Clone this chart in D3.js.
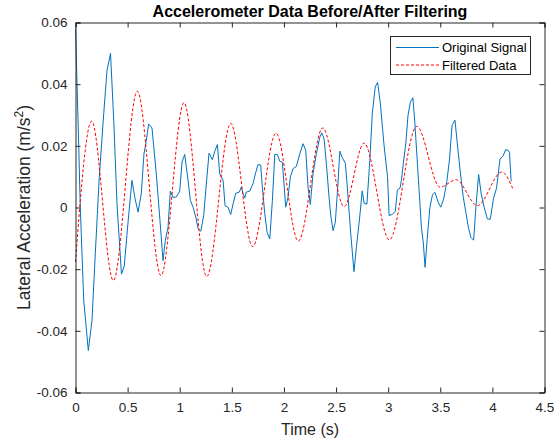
<!DOCTYPE html>
<html>
<head>
<meta charset="utf-8">
<script src="https://cdn.jsdelivr.net/npm/d3@7"></script>
<style>
  body { margin: 0; background: #fff; }
  text { font-family: "Liberation Sans", Arial, sans-serif; }
</style>
</head>
<body>
<div id="chart"></div>
<script>
// time (s) and lateral acceleration (m/s^2) of the raw signal
var rawTime = [0.000, 0.031, 0.046, 0.079, 0.123, 0.158, 0.190, 0.228, 0.271, 0.302, 0.336, 0.367, 0.398, 0.441, 0.468,
  0.504, 0.542, 0.571, 0.600, 0.631, 0.657, 0.679, 0.702, 0.734, 0.775, 0.808, 0.840, 0.862, 0.888, 0.910, 0.936,
  0.967, 1.000, 1.022, 1.048, 1.080, 1.102, 1.128, 1.154, 1.176, 1.202, 1.230, 1.250, 1.281, 1.313, 1.339, 1.361,
  1.384, 1.416, 1.435, 1.464, 1.489, 1.512, 1.537, 1.572, 1.591, 1.607, 1.624, 1.639, 1.672, 1.703, 1.726, 1.751,
  1.777, 1.793, 1.816, 1.838, 1.864, 1.889, 1.912, 1.937, 1.960, 1.985, 2.017, 2.039, 2.061, 2.087, 2.119, 2.152,
  2.183, 2.209, 2.231, 2.253, 2.279, 2.311, 2.344, 2.363, 2.385, 2.407, 2.433, 2.449, 2.471, 2.493, 2.516, 2.536,
  2.560, 2.589, 2.608, 2.641, 2.672, 2.695, 2.727, 2.751, 2.770, 2.796, 2.824, 2.848, 2.876, 2.899, 2.924, 2.961,
  2.994, 3.009, 3.042, 3.069, 3.088, 3.114, 3.127, 3.146, 3.169, 3.190, 3.213, 3.237, 3.256, 3.287, 3.319, 3.338,
  3.354, 3.375, 3.400, 3.426, 3.449, 3.480, 3.505, 3.533, 3.563, 3.589, 3.613, 3.641, 3.662, 3.692, 3.721, 3.748,
  3.769, 3.794, 3.820, 3.842, 3.868, 3.893, 3.921, 3.952, 3.980, 4.010, 4.040, 4.073, 4.101, 4.128, 4.153, 4.164, 4.180];
var rawAccel = [0.0580, 0.0200, 0.0000, -0.0300, -0.0464, -0.0367, -0.0150, 0.0098, 0.0305, 0.0444, 0.0500, 0.0282, 0.0013, -0.0216, -0.0190,
  -0.0048, 0.0088, 0.0030, -0.0015, 0.0044, 0.0174, 0.0217, 0.0271, 0.0258, 0.0109, -0.0031, -0.0172, -0.0107, -0.0064, 0.0053, 0.0033,
  0.0034, 0.0053, 0.0147, 0.0172, 0.0088, 0.0023, 0.0001, -0.0031, -0.0069, -0.0077, -0.0026, 0.0055, 0.0176, 0.0155, 0.0185, 0.0204,
  0.0109, 0.0088, 0.0006, 0.0001, -0.0023, 0.0012, 0.0046, 0.0050, 0.0066, 0.0046, 0.0031, 0.0050, 0.0053, 0.0077, 0.0109, 0.0139,
  0.0138, 0.0066, -0.0020, -0.0080, -0.0102, 0.0023, 0.0172, 0.0172, 0.0150, 0.0147, 0.0001, 0.0033, 0.0098, 0.0126, 0.0133, 0.0174,
  0.0207, 0.0185, 0.0066, 0.0010, 0.0109, 0.0174, 0.0228, 0.0242, 0.0223, 0.0142, 0.0033, -0.0026, -0.0075, -0.0048, 0.0066, 0.0183,
  0.0161, 0.0144, 0.0066, -0.0085, -0.0208, -0.0129, -0.0031, 0.0054, 0.0013, 0.0011, 0.0152, 0.0306, 0.0391, 0.0406, 0.0340, 0.0200,
  0.0100, -0.0026, -0.0022, -0.0012, 0.0056, 0.0063, 0.0088, 0.0145, 0.0207, 0.0298, 0.0342, 0.0356, 0.0275, 0.0109, -0.0064, -0.0118,
  -0.0194, -0.0100, 0.0000, 0.0042, 0.0049, 0.0017, 0.0001, 0.0028, 0.0085, 0.0157, 0.0266, 0.0283, 0.0212, 0.0115, 0.0033, -0.0020,
  -0.0064, -0.0097, -0.0106, 0.0003, 0.0107, 0.0044, 0.0001, -0.0037, -0.0038, 0.0028, 0.0063, 0.0157, 0.0166, 0.0188, 0.0185, 0.0179, 0.0085];

// filtered signal, read at its turning points
var filtTime = [0.000, 0.155, 0.363, 0.593, 0.820, 1.041, 1.259, 1.489, 1.700, 1.924, 2.138, 2.372, 2.577, 2.769,
  3.012, 3.274, 3.498, 3.652, 3.856, 4.090, 4.196];
var filtAccel = [-0.0177, 0.0280, -0.0237, 0.0377, -0.0221, 0.0340, -0.0224, 0.0273, -0.0127, 0.0241, -0.0109, 0.0258, 0.0003, 0.0209,
  -0.0105, 0.0263, 0.0066, 0.0090, 0.0006, 0.0115, 0.0061];

var xTicks = [0, 0.5, 1, 1.5, 2, 2.5, 3, 3.5, 4, 4.5];
var yTicks = [-0.06, -0.04, -0.02, 0, 0.02, 0.04, 0.06];
var seriesNames = ["Original Signal", "Filtered Data"];

var W = 559, H = 443;
var plotL = 75.5, plotT = 22.5, plotR = 544.5, plotB = 392.5;
var axisColor = "#262626";

var svg = d3.select("#chart").append("svg").attr("width", W).attr("height", H);

var x = d3.scaleLinear().domain([0, 4.5]).range([plotL, plotR]);
var y = d3.scaleLinear().domain([-0.06, 0.06]).range([plotB, plotT]);

var raw = rawTime.map(function (t, i) { return [t, rawAccel[i]]; });
var filt = filtTime.map(function (t, i) { return [t, filtAccel[i]]; });

// data lines
var line = d3.line().x(function (d) { return x(d[0]); }).y(function (d) { return y(d[1]); });
svg.append("path").datum(raw)
  .attr("d", line)
  .attr("fill", "none").attr("stroke", "#0072BD").attr("stroke-width", 1);
svg.append("path").datum(filt)
  .attr("d", line.curve(d3.curveMonotoneX))
  .attr("fill", "none").attr("stroke", "#ff0000").attr("stroke-width", 1)
  .attr("stroke-dasharray", "3,2");

// axes (box with inward ticks), plain hyphen for negatives like matlab
var fmt = function (d) { return String(+d.toFixed(2)); };
svg.append("g").attr("transform", "translate(0," + plotB + ")")
  .call(d3.axisBottom(x).tickValues(xTicks).tickSize(-5).tickPadding(10).tickFormat(fmt));
svg.append("g").attr("transform", "translate(0," + plotT + ")")
  .call(d3.axisTop(x).tickValues(xTicks).tickSize(-5).tickFormat(""));
svg.append("g").attr("transform", "translate(" + plotL + ",0)")
  .call(d3.axisLeft(y).tickValues(yTicks).tickSize(-5).tickPadding(8).tickFormat(fmt));
svg.append("g").attr("transform", "translate(" + plotR + ",0)")
  .call(d3.axisRight(y).tickValues(yTicks).tickSize(-5).tickFormat(""));

svg.selectAll(".domain").attr("stroke", axisColor).attr("stroke-width", 1);
svg.selectAll(".tick line").attr("stroke", axisColor);
svg.selectAll(".tick text")
  .attr("fill", axisColor)
  .style("font-family", "'Liberation Sans', Arial, sans-serif")
  .style("font-size", "13.5px");

// title and labels
svg.append("text")
  .attr("x", (plotL + plotR) / 2).attr("y", 17)
  .attr("text-anchor", "middle")
  .style("font-weight", "bold").style("font-size", "16px")
  .attr("fill", "#000")
  .text("Accelerometer Data Before/After Filtering");

svg.append("text")
  .attr("x", (plotL + plotR) / 2).attr("y", 435)
  .attr("text-anchor", "middle")
  .style("font-size", "16px").attr("fill", axisColor)
  .text("Time (s)");

var yl = svg.append("text")
  .attr("transform", "translate(30," + ((plotT + plotB) / 2) + ") rotate(-90)")
  .attr("text-anchor", "middle")
  .style("font-size", "17.5px").attr("fill", axisColor);
yl.append("tspan").text("Lateral Acceleration (m/s");
yl.append("tspan").attr("dy", -7).style("font-size", "12px").text("2");
yl.append("tspan").attr("dy", 7).text(")");

// legend
var lg = svg.append("g");
lg.append("rect")
  .attr("x", 390.5).attr("y", 36.5).attr("width", 140).attr("height", 38)
  .attr("fill", "#fff").attr("stroke", axisColor).attr("stroke-width", 1);
var legendStyles = [{ c: "#0072BD", dash: null }, { c: "#ff0000", dash: "3,2" }];
seriesNames.forEach(function (name, i) {
  var ly = 47.5 + i * 17.5;
  lg.append("line")
    .attr("x1", 396).attr("x2", 439).attr("y1", ly).attr("y2", ly)
    .attr("stroke", legendStyles[i].c).attr("stroke-width", 1)
    .attr("stroke-dasharray", legendStyles[i].dash);
  lg.append("text")
    .attr("x", 442).attr("y", ly + 4.5)
    .style("font-size", "13px").attr("fill", "#000")
    .text(name);
});
</script>
</body>
</html>
